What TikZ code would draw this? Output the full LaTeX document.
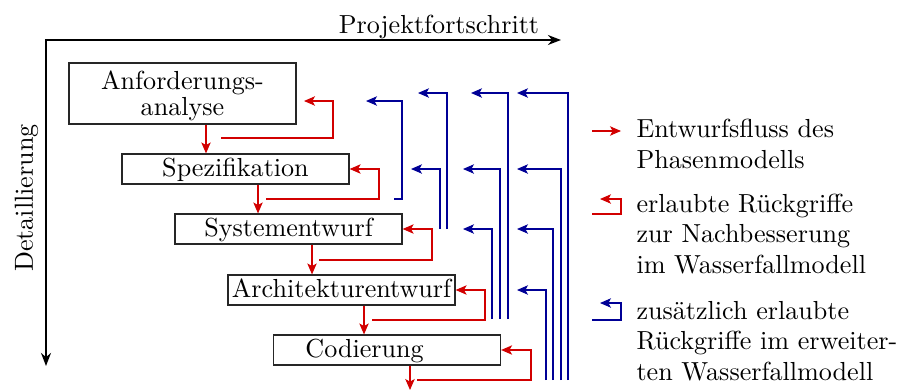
\documentclass[tikz,border=0pt]{standalone}
\usetikzlibrary{arrows.meta}
\definecolor{flowred}{RGB}{210,0,0}
\definecolor{backblue}{RGB}{0,0,150}
\begin{document}
\begin{tikzpicture}[x=0.3831pt,y=-0.3831pt,
  phase/.style={draw=black!85, line width=0.45pt, minimum width=87pt,
    minimum height=11.5pt, inner sep=0pt, text height=7.5pt, text depth=1.75pt},
  axis/.style={line width=0.8pt, -{Stealth[length=5pt,width=3.8pt]}},
  flow/.style={flowred, line width=0.45pt, -{Stealth[length=4.2pt,width=3.6pt,inset=1pt]}},
  back/.style={flow},
  extra/.style={backblue, line width=0.45pt, -{Stealth[length=4.2pt,width=3.6pt,inset=1pt]}},
  legend/.style={anchor=base west, align=left, inner sep=0pt,
    font=\fontsize{10}{11.6}\selectfont}]
\useasboundingbox (0,0) rectangle (905,389);

% axes
\coordinate (origin) at (46,40);
\coordinate (xend) at (561,40);
\coordinate (yend) at (46,366);
\draw[axis] ([xshift=-0.4pt]origin) -- (xend);
\draw[axis] (origin) -- (yend);
\node[anchor=base] (xlabel) at (439,33.3) {Projektfortschritt};
\node[anchor=base, rotate=90] (ylabel) at (33,198) {Detaillierung};

% phases (a multi-line node sits on its last baseline)
\node[phase, align=center, text height=20pt, text depth=3.4pt,
  font=\fontsize{10}{8.4}\selectfont] (b1) at (182.5,93.5) {Anforderungs-\\analyse};
\node[phase] (b2) at (235.5,169) {Spezifikation};
\node[phase] (b3) at (288.5,229) {Systementwurf};
\node[phase] (b4) at (341.5,290) {Architekturentwurf};
\node[phase] (b5) at (387,350) {Codierung\hspace*{17.2pt}};

% design flow
\draw[flow] (b1.south -| 206,0) -- (b2.north -| 206,0);
\draw[flow] (b2.south -| 258,0) -- (b3.north -| 258,0);
\draw[flow] (b3.south -| 312,0) -- (b4.north -| 312,0);
\draw[flow] (b4.south -| 364,0) -- (b5.north -| 364,0);
\coordinate (out) at (410,390);
\draw[flow] (b5.south -| out) -- (out);

% allowed feedback in the waterfall model
\coordinate (r1) at (304,101);
\draw[back] (221,138) -| (333,101) -- (r1);
\draw[back] (266,199) -| (379,169) -- (b2.east);
\draw[back] (319,260) -| (432,229) -- (b3.east);
\draw[back] (372,320) -| (485,290) -- (b4.east);
\draw[back] (417,380) -| (531,350) -- (b5.east);

% additional feedback in the extended waterfall model
\draw[extra] (394,199) -| (402,101) -- (366,101);
\draw[extra] (447,229) |- (418,93);
\draw[extra] (440,229) |- (411,169);
\draw[extra] (508,319) |- (471,93);
\draw[extra] (500,319) |- (463,169);
\draw[extra] (492,319) |- (463,229);
\draw[extra] (568,380) |- (517,93);
\draw[extra] (561,380) |- (517,169);
\draw[extra] (553,380) |- (517,229);
\draw[extra] (546,380) |- (517,290);

% legend (anchored on the last line's baseline)
\draw[flow] (592,131) -- (621,131);
\draw[back] (592,214) -| (621,199) -- (600,199);
\draw[extra] (592,320) -| (621,303) -- (600,303);
\node[legend] (l1) at (636,168) {Entwurfsfluss des\\Phasenmodells};
\node[legend] (l2) at (636,273) {erlaubte Rückgriffe\\zur Nachbesserung\\im Wasserfallmodell};
\node[legend] (l3) at (636,380) {zusätzlich erlaubte\\Rückgriffe im erweiter-\\ten Wasserfallmodell};
\end{tikzpicture}
\end{document}
